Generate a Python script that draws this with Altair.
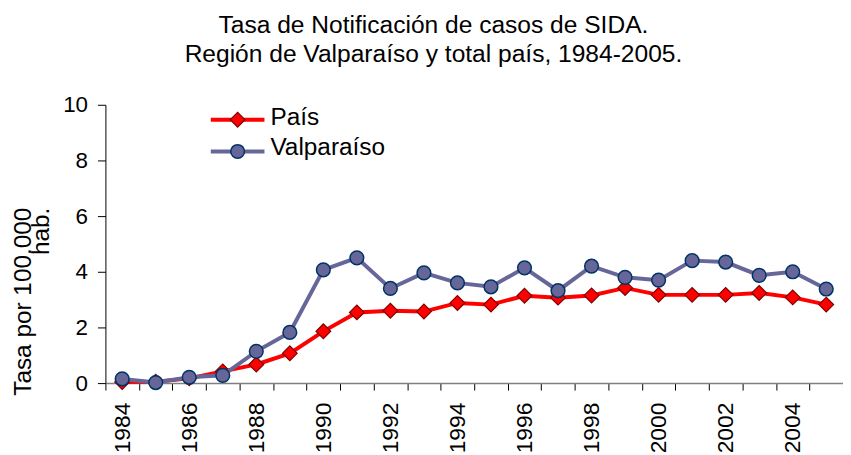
import altair as alt
import pandas as pd

years = list(range(1984, 2006))
pais = [0.04, 0.05, 0.17, 0.42, 0.67, 1.07, 1.86, 2.54, 2.60, 2.57, 2.88, 2.82,
        3.14, 3.07, 3.15, 3.42, 3.17, 3.17, 3.17, 3.24, 3.08, 2.82]
valpo = [0.15, 0.02, 0.21, 0.28, 1.14, 1.82, 4.07, 4.50, 3.40, 3.96, 3.60, 3.46,
         4.14, 3.32, 4.20, 3.80, 3.70, 4.40, 4.35, 3.87, 4.00, 3.38]
series_names = ["País", "Valparaíso"]
y_ticks = [0, 2, 4, 6, 8, 10]
title_lines = ["Tasa de Notificación de casos de SIDA.",
               "Región de Valparaíso y total país, 1984-2005."]
y_title = ["Tasa por 100.000", "hab."]

FONT = "Liberation Sans"
RED = "#FF0000"
RED_EDGE = "#7F0000"
SLATE = "#666699"
SLATE_EDGE = "#003366"

df = pd.DataFrame({
    "year": years * 2,
    "series": [series_names[0]] * len(years) + [series_names[1]] * len(years),
    "value": pais + valpo,
})

x_enc = alt.X(
    "year:O",
    scale=alt.Scale(type="band", paddingInner=0, paddingOuter=0),
    axis=alt.Axis(
        title=None, tickBand="extent", labelAngle=-90,
        labelExpr="toNumber(datum.value) % 2 == 0 ? datum.label : ''",
        labelOverlap=False, labelFont=FONT, labelFontSize=23, labelColor="black",
        labelPadding=12, domainColor="#808080", domainWidth=1.5,
        tickColor="black", tickSize=7, tickWidth=1, grid=False,
    ),
)
y_enc = alt.Y(
    "value:Q",
    scale=alt.Scale(domain=[0, 10], nice=False),
    axis=alt.Axis(
        values=y_ticks, title=y_title, titleFont=FONT, titleFontSize=24.5,
        titleFontWeight="normal", titleColor="black", titleAlign="right",
        titleBaseline="top", titleX=-94, titleY=103, titleLineHeight=18,
        labelFont=FONT, labelFontSize=22.5, labelColor="black", labelPadding=10,
        domainColor="black", domainWidth=1, tickColor="black", tickSize=8,
        grid=False,
    ),
)

base = alt.Chart(df).encode(x=x_enc, y=y_enc)

pais_line = base.transform_filter(alt.datum.series == series_names[0]).mark_line(
    color=RED, strokeWidth=4)
pais_pts = base.transform_filter(alt.datum.series == series_names[0]).mark_point(
    shape="diamond", filled=True, fill=RED, stroke=RED_EDGE, strokeWidth=1.2,
    size=220, opacity=1)
valpo_line = base.transform_filter(alt.datum.series == series_names[1]).mark_line(
    color=SLATE, strokeWidth=4)
valpo_pts = base.transform_filter(alt.datum.series == series_names[1]).mark_point(
    shape="circle", filled=True, fill=SLATE, stroke=SLATE_EDGE, strokeWidth=1.5,
    size=190, opacity=1)

leg_df = pd.DataFrame({"name": series_names})
leg = alt.Chart(leg_df)
leg_p = leg.transform_filter(alt.datum.name == series_names[0])
leg_v = leg.transform_filter(alt.datum.name == series_names[1])

legend_layers = [
    leg_p.mark_rule(color=RED, strokeWidth=4).encode(
        x=alt.value(106), x2=alt.value(160), y=alt.value(15)),
    leg_p.mark_point(shape="diamond", filled=True, fill=RED, stroke=RED_EDGE,
                     strokeWidth=1.2, size=220, opacity=1).encode(
        x=alt.value(133), y=alt.value(15)),
    leg_p.mark_text(align="left", baseline="alphabetic", font=FONT, fontSize=24.5,
                    color="black").encode(
        x=alt.value(166), y=alt.value(20), text="name:N"),
    leg_v.mark_rule(color=SLATE, strokeWidth=4).encode(
        x=alt.value(106), x2=alt.value(160), y=alt.value(47)),
    leg_v.mark_point(shape="circle", filled=True, fill=SLATE, stroke=SLATE_EDGE,
                     strokeWidth=1.5, size=190, opacity=1).encode(
        x=alt.value(133), y=alt.value(47)),
    leg_v.mark_text(align="left", baseline="alphabetic", font=FONT, fontSize=24.5,
                    color="black").encode(
        x=alt.value(166), y=alt.value(51), text="name:N"),
]

chart = alt.layer(
    pais_line, pais_pts, valpo_line, valpo_pts, *legend_layers
).properties(
    width=742, height=280,
    title=alt.Title(title_lines, font=FONT, fontSize=24.7, fontWeight="normal",
                    color="black", anchor="middle", dx=-41, offset=27,
                    lineHeight=29),
    autosize=alt.AutoSizeParams(type="none"),
    padding={"left": 98, "top": 96, "right": 0, "bottom": 75},
).configure_view(stroke=None)

chart.save("out.html", embed_options={"renderer": "svg", "actions": False})
